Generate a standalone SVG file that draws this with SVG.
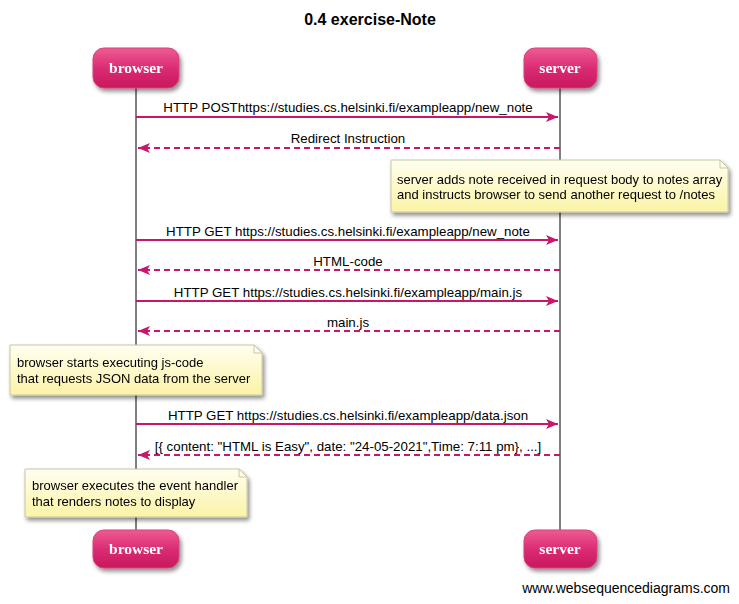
<svg xmlns="http://www.w3.org/2000/svg" width="739" height="604" viewBox="0 0 739 604">
<defs>
<linearGradient id="actorGrad" x1="0" y1="0" x2="0" y2="1">
<stop offset="0" stop-color="#ee5c93"/>
<stop offset="0.5" stop-color="#db2c73"/>
<stop offset="1" stop-color="#c8185e"/>
</linearGradient>
<linearGradient id="noteGrad" x1="0" y1="0" x2="0" y2="1">
<stop offset="0" stop-color="#fffff0"/>
<stop offset="1" stop-color="#fbf3a6"/>
</linearGradient>
<filter id="shadow" x="-10%" y="-10%" width="130%" height="140%">
<feGaussianBlur in="SourceAlpha" stdDeviation="2"/>
<feOffset dx="2" dy="3" result="b"/>
<feComponentTransfer><feFuncA type="linear" slope="0.45"/></feComponentTransfer>
<feMerge><feMergeNode/><feMergeNode in="SourceGraphic"/></feMerge>
</filter>
<marker id="arrow" viewBox="0 0 12 10" refX="12" refY="5" markerWidth="12" markerHeight="10" markerUnits="userSpaceOnUse" orient="auto">
<path d="M0,0 L12,5 L0,10 L3,5 Z" fill="#c8176a"/>
</marker>
</defs>
<style>
.title{font-family:"Liberation Sans",Arial,sans-serif;font-size:16px;font-weight:bold;fill:#000;text-anchor:middle}
.actor rect{fill:url(#actorGrad);stroke:#d8407c;stroke-width:1}
.actor text{font-family:"Liberation Serif","Times New Roman",serif;font-size:15.5px;font-weight:bold;fill:#fff;text-anchor:middle}
.life{stroke:#000;stroke-width:1}
.msg{stroke:#c8176a;stroke-width:2;fill:none}
.dash{stroke-dasharray:6,4}
.lbl{font-family:"Liberation Sans",Arial,sans-serif;font-size:13.3px;fill:#000;text-anchor:middle}
.note path.body{fill:url(#noteGrad);stroke:#c9c7a0;stroke-width:1}
.note text{font-family:"Liberation Sans",Arial,sans-serif;font-size:13px;fill:#000}
.footer{font-family:"Liberation Sans",Arial,sans-serif;font-size:14px;fill:#000;text-anchor:end}
</style>
<rect width="739" height="604" fill="#fff"/>
<text class="title" x="370" y="25">0.4 exercise-Note</text>

<g id="lifelines">
<line class="life" x1="136" y1="88" x2="136" y2="530"/>
<line class="life" x1="560" y1="88" x2="560" y2="530"/>
</g>

<g id="browser-top" class="actor" filter="url(#shadow)">
<rect x="93" y="48" width="86" height="40" rx="11"/>
<text x="136" y="73">browser</text>
</g>
<g id="server-top" class="actor" filter="url(#shadow)">
<rect x="524" y="48" width="73" height="40" rx="11"/>
<text x="560" y="73">server</text>
</g>
<g id="browser-bottom" class="actor" filter="url(#shadow)">
<rect x="93" y="530" width="86" height="38" rx="11"/>
<text x="136" y="554">browser</text>
</g>
<g id="server-bottom" class="actor" filter="url(#shadow)">
<rect x="524" y="530" width="73" height="38" rx="11"/>
<text x="560" y="554">server</text>
</g>

<g id="connectors">
<line class="msg" x1="136" y1="117" x2="558" y2="117" marker-end="url(#arrow)"/>
<text class="lbl" x="348" y="112">HTTP POSThttps://studies.cs.helsinki.fi/exampleapp/new_note</text>
<line class="msg dash" x1="560" y1="148" x2="138" y2="148" marker-end="url(#arrow)"/>
<text class="lbl" x="348" y="143">Redirect Instruction</text>
<line class="msg" x1="136" y1="240" x2="558" y2="240" marker-end="url(#arrow)"/>
<text class="lbl" x="348" y="236">HTTP GET https://studies.cs.helsinki.fi/exampleapp/new_note</text>
<line class="msg dash" x1="560" y1="270" x2="138" y2="270" marker-end="url(#arrow)"/>
<text class="lbl" x="348" y="266">HTML-code</text>
<line class="msg" x1="136" y1="301" x2="558" y2="301" marker-end="url(#arrow)"/>
<text class="lbl" x="348" y="297">HTTP GET https://studies.cs.helsinki.fi/exampleapp/main.js</text>
<line class="msg dash" x1="560" y1="331" x2="138" y2="331" marker-end="url(#arrow)"/>
<text class="lbl" x="348" y="327">main.js</text>
<line class="msg" x1="136" y1="424" x2="558" y2="424" marker-end="url(#arrow)"/>
<text class="lbl" x="348" y="420">HTTP GET https://studies.cs.helsinki.fi/exampleapp/data.json</text>
<line class="msg dash" x1="560" y1="455" x2="138" y2="455" marker-end="url(#arrow)"/>
<text class="lbl" x="348" y="451">[{ content: "HTML is Easy", date: "24-05-2021",Time: 7:11 pm}, ...]</text>
</g>

<g id="note-server" class="note" filter="url(#shadow)">
<path class="body" d="M391,160 H720 L728,168 V212 H391 Z"/>
<path d="M720,160 V168 H728" fill="none" stroke="#c9c7a0"/>
<text x="397" y="184">server adds note received in request body to notes array</text>
<text x="397" y="199">and instructs browser to send another request to /notes</text>
</g>

<g id="note-browser-js" class="note" filter="url(#shadow)">
<path class="body" d="M10,345 H254 L262,353 V395 H10 Z"/>
<path d="M254,345 V353 H262" fill="none" stroke="#c9c7a0"/>
<text x="17" y="367">browser starts executing js-code</text>
<text x="17" y="383">that requests JSON data from the server</text>
</g>

<g id="note-browser-render" class="note" filter="url(#shadow)">
<path class="body" d="M25,469 H239 L247,477 V517 H25 Z"/>
<path d="M239,469 V477 H247" fill="none" stroke="#c9c7a0"/>
<text x="32" y="490">browser executes the event handler</text>
<text x="32" y="506">that renders notes to display</text>
</g>

<text class="footer" x="730" y="593">www.websequencediagrams.com</text>
</svg>
